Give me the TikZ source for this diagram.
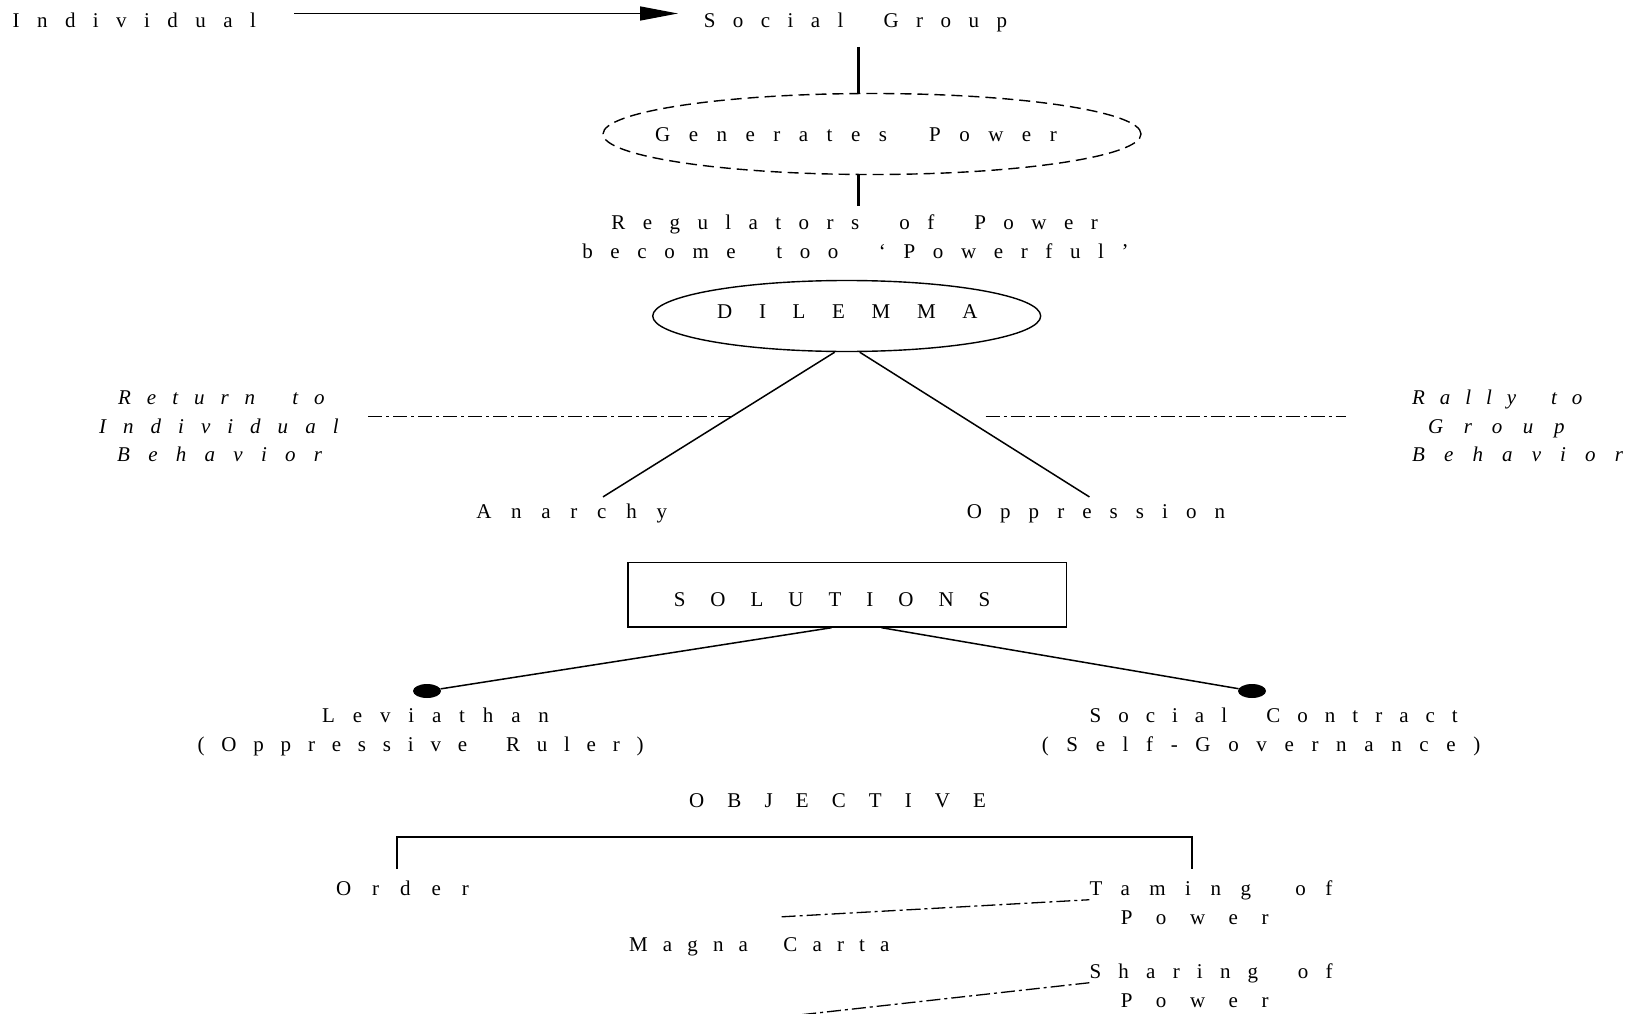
\documentclass[tikz,border=0pt]{standalone}
\usepackage{fontspec}
\setmainfont{Liberation Serif}
\usetikzlibrary{shapes.geometric,arrows.meta}
\newlength\lsgap
\newcommand\spaced[2]{{\setlength\lsgap{21pt}\setlength\lsgap{#1\lsgap}\setlength\lsgap{0.01\lsgap}\addfontfeatures{LetterSpace=#1}#2}}
\newcommand\g{\hspace{\lsgap}\ }
\begin{document}
\begin{tikzpicture}[x=1pt,y=-1pt,
  txt/.style={anchor=base west, inner sep=0pt, font=\fontsize{21}{25}\selectfont},
  itxt/.style={txt, font=\fontsize{21}{25}\selectfont\itshape},
  thin line/.style={line width=1.5pt},
  tick/.style={line width=2.6pt},
  dashdot line/.style={line width=1.3pt, dash pattern=on 14pt off 4pt on 3pt off 4pt},
  blackdot/.style={ellipse, fill=black, inner sep=0pt, minimum width=28pt, minimum height=14pt}]
\useasboundingbox (0,0) rectangle (1630,1014);
\fill[white] (0,0) rectangle (1630,1014);

% top row
\node[txt] (indiv) at (12.5,28) {\spaced{83}{Individual}};
\node[txt] (sg) at (703.7,28) {\spaced{83}{Social\g Group}};
\coordinate (arrS) at (294,13.5);
\coordinate (arrE) at (678,13.5);
\draw[thin line, -{Triangle[length=38pt,width=14pt]}] (arrS) -- (arrE);

% generates power
\node[ellipse, draw, line width=1.4pt, dash pattern=on 11pt off 6pt, minimum width=538pt, minimum height=81pt, inner sep=0pt] (gen) at (872,134) {};
\node[txt] (gentxt) at (655,142) {\spaced{88}{Generates\g Power}};
\coordinate (sgb) at (858.6,46.8);
\draw[tick] (sgb) -- (sgb |- gen.north);
\coordinate (gb) at (858.6,205.8);
\draw[tick] (gb |- gen.south) -- (gb);

\node[txt] (reg1) at (611.2,229.5) {\spaced{83}{Regulators\g of\g Power}};
\node[txt] (reg2) at (582.1,258.6) {\spaced{84}{become\g too\g ‘Powerful’}};

% dilemma
\node[ellipse, draw, line width=1.4pt, minimum width=388pt, minimum height=71pt, inner sep=0pt] (dil) at (846.7,316) {};
\node[txt] (diltxt) at (717,318) {\spaced{127}{DILEMMA}};
\node[txt] (anar) at (476.1,518.5) {\spaced{94}{Anarchy}};
\node[txt] (opp) at (966.7,518.5) {\spaced{86}{Oppression}};
\coordinate (anTop) at (603,496.9);
\coordinate (opTop) at (1089.4,496.9);
\draw[thin line] ([xshift=-12pt]dil.south) -- (anTop);
\draw[thin line] ([xshift=13pt]dil.south) -- (opTop);

% side labels
\node[itxt] (ret1) at (118,404) {\spaced{76}{Return\g to}};
\node[itxt] (ret2) at (99,433) {\spaced{81}{Individual}};
\node[itxt] (ret3) at (117,461) {\spaced{87}{Behavior}};
\coordinate (dl1) at (368,416.8);
\coordinate (dl2) at (730.6,416.8);
\draw[dashdot line] (dl1) -- (dl2);
\node[itxt] (ral1) at (1412,404) {\spaced{71}{Rally\g to}};
\node[itxt] (ral2) at (1428,433) {\spaced{98}{Group}};
\node[itxt] (ral3) at (1412,461) {\spaced{91}{Behavior}};
\coordinate (dr1) at (985.5,416.8);
\coordinate (dr2) at (1346,416.8);
\draw[dashdot line] (dr1) -- (dr2);

% solutions
\node[draw, line width=1.8pt, minimum width=438.6pt, minimum height=64.4pt, inner sep=0pt] (sol) at (847.2,594.6) {};
\node[txt] (soltxt) at (673.6,606) {\spaced{119}{SOLUTIONS}};
\node[blackdot] (levdot) at (427,691) {};
\node[blackdot] (scdot) at (1252,691) {};
\draw[thin line] ([xshift=-15.6pt]sol.south) -- (levdot);
\draw[thin line] ([xshift=34.3pt]sol.south) -- (scdot);

\node[txt] (lev1) at (322,722) {\spaced{85}{Leviathan}};
\node[txt] (lev2) at (197.5,751) {\spaced{80}{(Oppressive\g Ruler)}};
\node[txt] (sc1) at (1089.4,722) {\spaced{81}{Social\g Contract}};
\node[txt] (sc2) at (1041.6,751) {\spaced{84}{(Self-Governance)}};

% objective
\node[txt] (obj) at (689,807.5) {\spaced{110}{OBJECTIVE}};
\coordinate (brL) at (397,869);
\coordinate (brR) at (1192.3,869);
\draw[line width=2pt] (brL) -- ++(0,-32.2) -| (brR);
\node[txt] (ord) at (335.8,895) {\spaced{100}{Order}};
\node[txt] (tam1) at (1089.4,895) {\spaced{93}{Taming\g of}};
\node[txt] (tam2) at (1120.6,924) {\spaced{112}{Power}};
\node[txt] (mc) at (629,951) {\spaced{72}{Magna\g Carta}};
\node[txt] (sh1) at (1089.4,978) {\spaced{82}{Sharing\g of}};
\node[txt] (sh2) at (1120.6,1007) {\spaced{112}{Power}};
\coordinate (mc1) at (781.7,916.8);
\coordinate (mc2) at (760,1019.3);
\draw[dashdot line] (mc1) -- (tam1.south west);
\draw[dashdot line] (sh1.south west) -- (mc2);
\end{tikzpicture}
\end{document}
